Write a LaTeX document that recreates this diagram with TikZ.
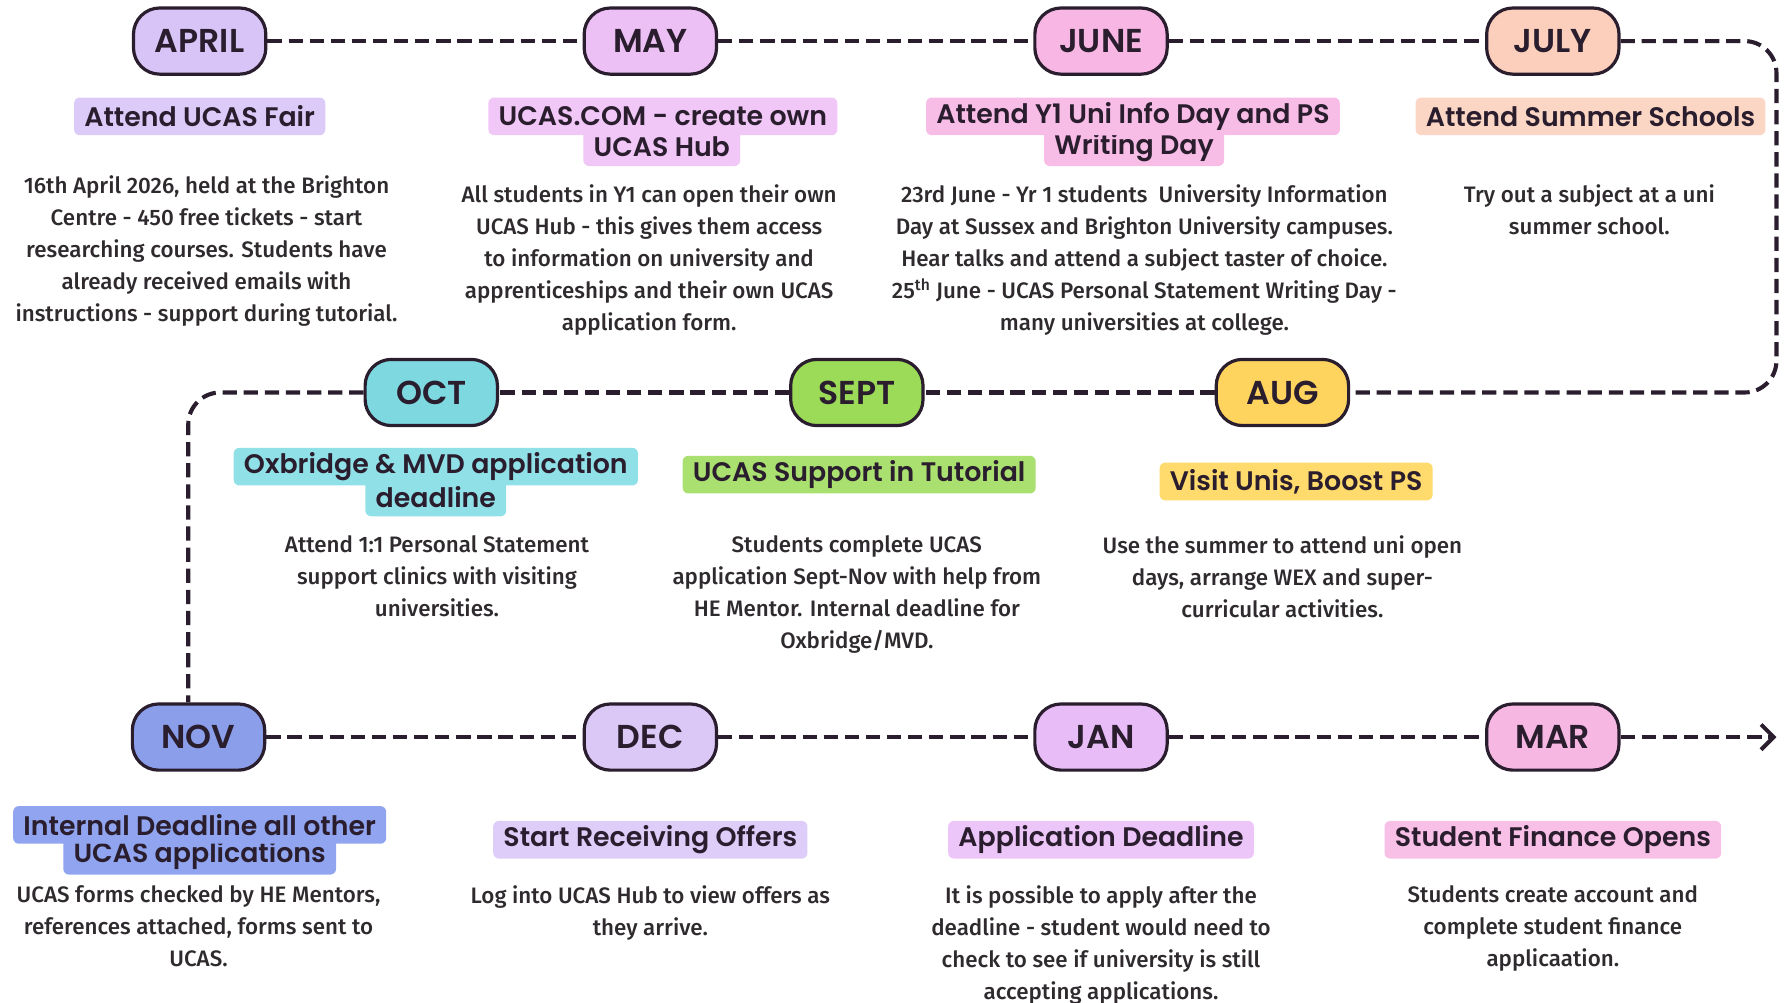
\documentclass[tikz,border=0pt]{standalone}
\usepackage{fontspec}
\IfFontExistsTF{Fira Sans Medium}{\newfontfamily\bodyf{Fira Sans Medium}\newcommand\bodyw{}}{\newfontfamily\bodyf{Fira Sans}\newcommand\bodyw{\bfseries}}
\IfFontExistsTF{Poppins SemiBold}{\newfontfamily\headf{Poppins SemiBold}\newcommand\headw{}}{\newfontfamily\headf{Poppins}\newcommand\headw{\bfseries}}
\usetikzlibrary{arrows.meta}
\definecolor{ink}{HTML}{2A1E2E}
\definecolor{bodyc}{HTML}{2E2A2E}
\definecolor{cApr}{HTML}{D9C4F7}
\definecolor{hApr}{HTML}{DCCBF9}
\definecolor{cMay}{HTML}{EDC0F5}
\definecolor{hMay}{HTML}{F0C7F6}
\definecolor{cJun}{HTML}{F7B6E3}
\definecolor{hJun}{HTML}{F8BDE7}
\definecolor{cJul}{HTML}{FBCFBB}
\definecolor{hJul}{HTML}{FCD6C4}
\definecolor{cOct}{HTML}{7DD8E0}
\definecolor{hOct}{HTML}{90E0E7}
\definecolor{cSep}{HTML}{9BDB58}
\definecolor{hSep}{HTML}{A9E070}
\definecolor{cAug}{HTML}{FFD45E}
\definecolor{hAug}{HTML}{FFDA6C}
\definecolor{cNov}{HTML}{8A9EEA}
\definecolor{hNov}{HTML}{90A4EF}
\definecolor{cDec}{HTML}{DCC8F7}
\definecolor{hDec}{HTML}{DECCF9}
\definecolor{cJan}{HTML}{E8BCF7}
\definecolor{hJan}{HTML}{ECC5F9}
\definecolor{cMar}{HTML}{F6B7E2}
\definecolor{hMar}{HTML}{F8BFE7}
\begin{document}
\begin{tikzpicture}[x=1pt,y=-1pt,
  month/.style={draw=ink, line width=2.8pt, rounded corners=23pt, minimum width=116pt, minimum height=58pt, inner sep=0pt, text=ink, font=\headf\headw\fontsize{29}{32}\selectfont},
  head/.style={rounded corners=5pt, inner xsep=9pt, inner ysep=0pt, minimum height=33pt, text=ink, font=\headf\headw\fontsize{23.5}{27}\selectfont},
  body/.style={align=center, anchor=north, inner sep=0pt, text=bodyc, font=\bodyf\bodyw\fontsize{19.6}{28}\selectfont},
  dl/.style={draw=ink, line width=3.6pt, dash pattern=on 12.5pt off 6pt},
  dlr/.style={dl, rounded corners=28pt}
]
\useasboundingbox (0,0) rectangle (1568,879);
% month pills
\node[month, fill=cApr] (apr) at (175,36) {APRIL};
\node[month, fill=cMay] (may) at (570,36) {MAY};
\node[month, fill=cJun] (jun) at (965,36) {JUNE};
\node[month, fill=cJul] (jul) at (1361,36) {JULY};
\node[month, fill=cOct] (oct) at (378,344) {OCT};
\node[month, fill=cSep] (sep) at (751,344) {SEPT};
\node[month, fill=cAug] (aug) at (1124,344) {AUG};
\node[month, fill=cNov] (nov) at (174,646) {NOV};
\node[month, fill=cDec] (dec) at (570,646) {DEC};
\node[month, fill=cJan] (jan) at (965,646) {JAN};
\node[month, fill=cMar] (mar) at (1361,646) {MAR};
% connector corner coordinates
\coordinate (rx) at (1557,0);
\coordinate (lx) at (165,0);
\coordinate (arrowend) at (1557,646);
% connectors
\draw[dl] (apr) -- (may);
\draw[dl] (may) -- (jun);
\draw[dl] (jun) -- (jul);
\draw[dlr] (jul.east) -- (jul.east -| rx) -- (aug.east -| rx) -- (aug.east);
\draw[dl] (aug) -- (sep);
\draw[dl] (sep) -- (oct);
\draw[dlr] (oct.west) -- (oct.west -| lx) -- (lx |- nov.north);
\draw[dl] (nov) -- (dec);
\draw[dl] (dec) -- (jan);
\draw[dl] (jan) -- (mar);
\draw[dl, -{Straight Barb[length=11pt,width=22pt,line width=3.5pt]}] (mar.east) -- (arrowend);
% headings
\node[head, fill=hApr] (hapr) at (175,102) {Attend UCAS Fair};
\node[head, fill=hMay] (hmay2) at (580,129) {UCAS Hub};
\node[head, fill=hMay] (hmay1) at (581,102) {UCAS.COM - create own};
\node[head, fill=hJun] (hjun2) at (994,129) {Writing Day};
\node[head, fill=hJun] (hjun1) at (993,102) {Attend Y1 Uni Info Day and PS};
\node[head, fill=hJul] (hjul) at (1394,102) {Attend Summer Schools};
\node[head, fill=hOct] (hoct2) at (382,436) {deadline};
\node[head, fill=hOct] (hoct1) at (382,409) {Oxbridge \& MVD application};
\node[head, fill=hSep] (hsep) at (753,416) {UCAS Support in Tutorial};
\node[head, fill=hAug] (haug) at (1136,422) {Visit Unis, Boost PS};
\node[head, fill=hNov] (hnov2) at (175,750) {UCAS applications};
\node[head, fill=hNov] (hnov1) at (175,723) {Internal Deadline all other};
\node[head, fill=hDec] (hdec) at (570,736) {Start Receiving Offers};
\node[head, fill=hJan] (hjan) at (965,736) {Application Deadline};
\node[head, fill=hMar] (hmar) at (1361,736) {Student Finance Opens};
% body texts
\node[body] (bapr) at (181,154) {16th April 2026, held at the Brighton\\Centre - 450 free tickets - start\\researching courses. Students have\\already received emails with\\instructions - support during tutorial.};
\node[body] (bmay) at (569,162) {All students in Y1 can open their own\\UCAS Hub - this gives them access\\to information on university and\\apprenticeships and their own UCAS\\application form.};
\node[body] (bjun) at (1003,162) {23rd June - Yr 1 students\ \ University Information\\Day at Sussex and Brighton University campuses.\\Hear talks and attend a subject taster of choice.\\25\textsuperscript{th} June - UCAS Personal Statement Writing Day -\\many universities at college.};
\node[body] (bjul) at (1393,162) {Try out a subject at a uni\\summer school.};
\node[body] (boct) at (383,469) {Attend 1:1 Personal Statement\\support clinics with visiting\\universities.};
\node[body] (bsep) at (751,469) {Students complete UCAS\\application Sept-Nov with help from\\HE Mentor. Internal deadline for\\Oxbridge/MVD.};
\node[body] (baug) at (1124,469) {Use the summer to attend uni open\\days, arrange WEX and super-\\curricular activities.};
\node[body] (bnov) at (174,776) {UCAS forms checked by HE Mentors,\\references attached, forms sent to\\UCAS.};
\node[body] (bdec) at (570,776) {Log into UCAS Hub to view offers as\\they arrive.};
\node[body] (bjan) at (965,776) {It is possible to apply after the\\deadline - student would need to\\check to see if university is still\\accepting applications.};
\node[body] (bmar) at (1361,776) {Students create account and\\complete student finance\\applicaation.};
\end{tikzpicture}
\end{document}
